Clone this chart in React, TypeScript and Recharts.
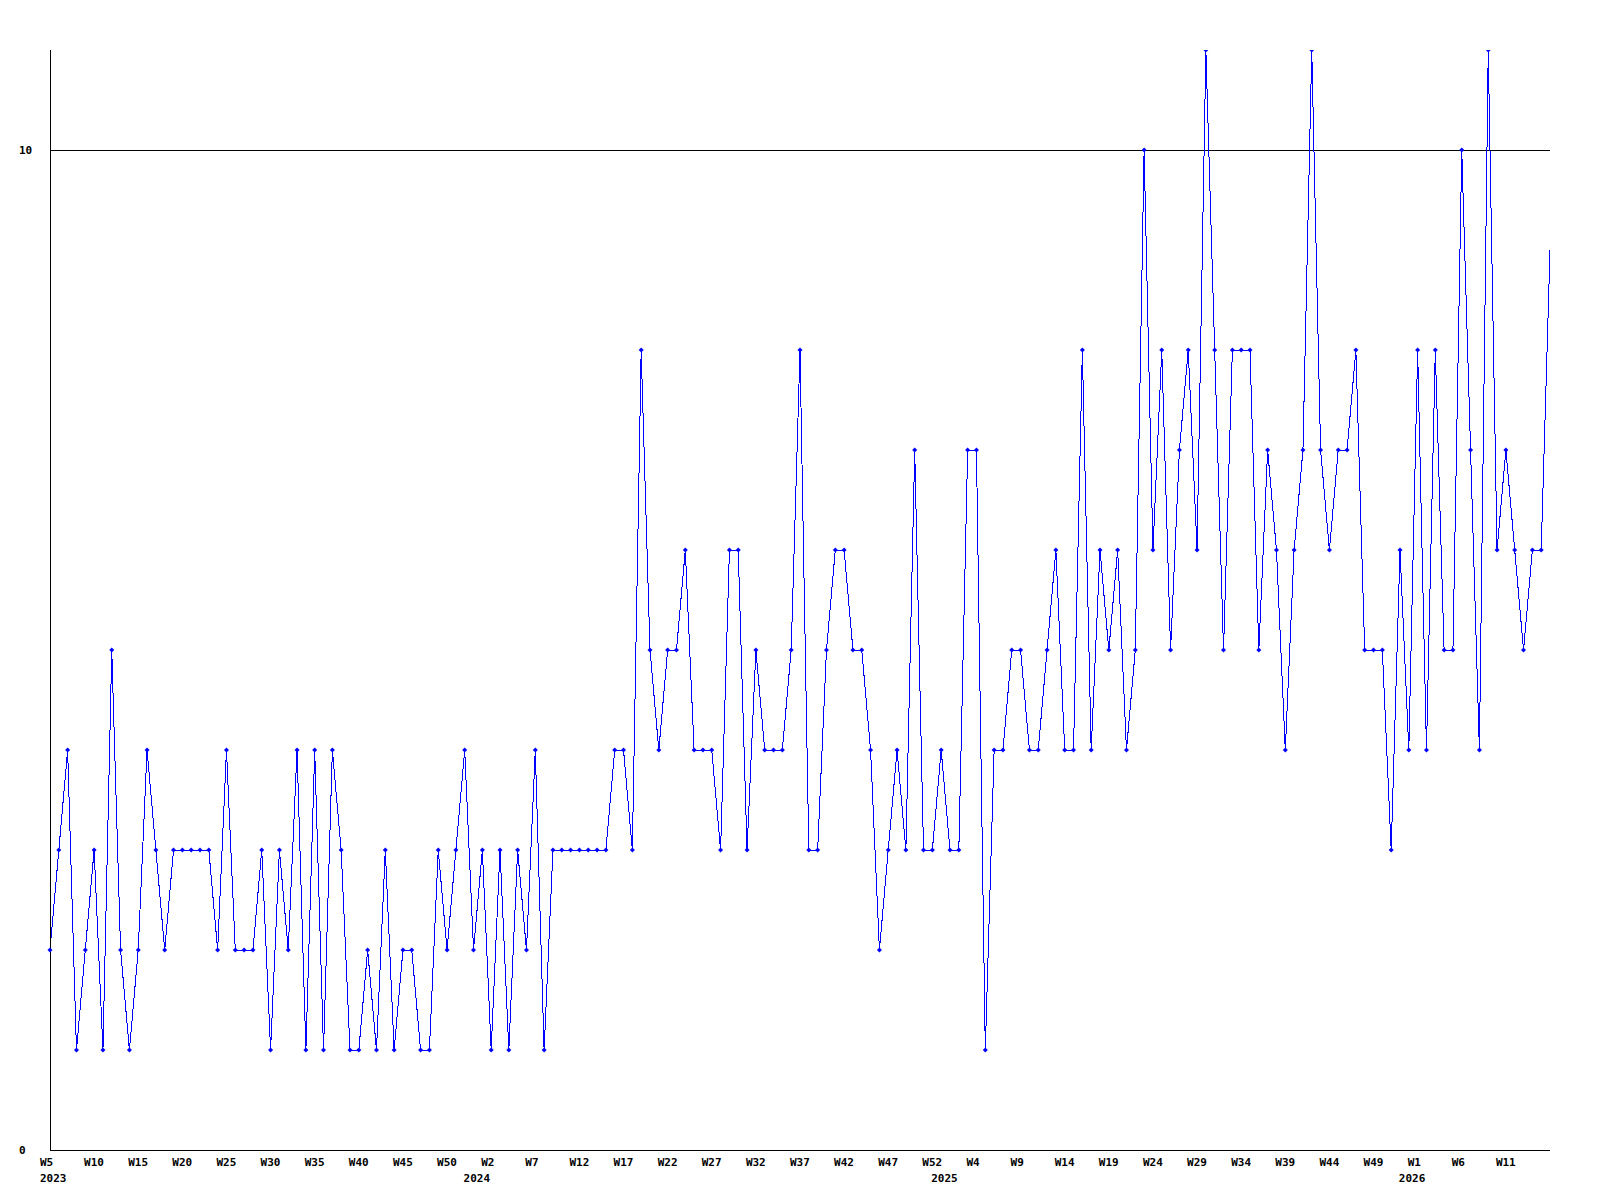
import React from "react";
import { LineChart, Line, XAxis, YAxis, ReferenceLine } from "recharts";

// Weekly buckets: year, first and last week number shown for that year
const YEARS = [2023, 2024, 2025, 2026];
const YEAR_FIRST_WEEK = [5, 0, 0, 0];
const YEAR_LAST_WEEK = [52, 52, 52, 16];

// Weekly counts, in order from 2023-W5 to 2026-W16
const VALUES = [
  2, 3, 4, 1, 2, 3, 1, 5, 2, 1, 2, 4, 3, 2, 3, 3, 3, 3, 3, 2, 4, 2,
  2, 2, 3, 1, 3, 2, 4, 1, 4, 1, 4, 3, 1, 1, 2, 1, 3, 1, 2, 2, 1, 1,
  3, 2, 3, 4, 2, 3, 1, 3, 1, 3, 2, 4, 1, 3, 3, 3, 3, 3, 3, 3,
  4, 4, 3, 8, 5, 4, 5, 5, 6, 4, 4, 4, 3, 6, 6, 3, 5, 4, 4, 4, 5, 8, 3,
  3, 5, 6, 6, 5, 5, 4, 2, 3, 4, 3, 7, 3, 3, 4, 3, 3, 7, 7, 1,
  4, 4, 5, 5, 4, 4, 5, 6, 4, 4, 8, 4, 6, 5, 6, 4, 5, 10, 6, 8, 5, 7, 8,
  6, 11, 8, 5, 8, 8, 8, 5, 7, 6, 4, 6, 7, 11, 7, 6, 7, 7, 8, 5, 5,
  5, 3, 6, 4, 8, 4, 8, 5, 5, 10, 7, 4, 11, 6, 7, 6, 5, 6, 6, 9,
];

// Categories labelled on the x axis
const X_TICK_KEYS = [
  "2023-W5", "2023-W10", "2023-W15", "2023-W20", "2023-W25", "2023-W30", "2023-W35", "2023-W40", "2023-W45", "2023-W50",
  "2024-W2", "2024-W7", "2024-W12", "2024-W17", "2024-W22", "2024-W27", "2024-W32", "2024-W37", "2024-W42", "2024-W47", "2024-W52",
  "2025-W4", "2025-W9", "2025-W14", "2025-W19", "2025-W24", "2025-W29", "2025-W34", "2025-W39", "2025-W44", "2025-W49",
  "2026-W1", "2026-W6", "2026-W11",
];
// Categories under which the year is written
const YEAR_LABEL_KEYS = ["2023-W5", "2024-W0", "2025-W0", "2026-W0"];

const Y_TICKS = [0, 10];
const Y_MAX = 11;
const GRID_VALUE = 10;

const CATEGORIES: string[] = [];
YEARS.forEach((yr, i) => {
  for (let w = YEAR_FIRST_WEEK[i]; w <= YEAR_LAST_WEEK[i]; w++) {
    CATEGORIES.push(`${yr}-W${w}`);
  }
});

const data = CATEGORIES.map((key, i) => ({ key, value: VALUES[i] }));

const FONT = {
  fontFamily: "'DejaVu Sans Mono', 'Liberation Mono', monospace",
  fontWeight: "bold" as const,
  fontSize: 11,
  fill: "#000",
};

const XTick = (props: any) => {
  const { x, y, payload } = props;
  const key: string = payload.value;
  const [yr, wk] = key.split("-");
  return (
    <g>
      {X_TICK_KEYS.includes(key) && (
        <text x={x - 10} y={y + 16} textAnchor="start" {...FONT}>
          {wk}
        </text>
      )}
      {YEAR_LABEL_KEYS.includes(key) && (
        <text x={x - 10} y={y + 32} textAnchor="start" {...FONT}>
          {yr}
        </text>
      )}
    </g>
  );
};

const YTick = (props: any) => {
  const { x, y, payload } = props;
  return (
    <text x={x - 31} y={y + 4} textAnchor="start" {...FONT}>
      {payload.value}
    </text>
  );
};

const Diamond = (props: any) => {
  const { cx, cy, index } = props;
  if (index === VALUES.length - 1 || cx == null || cy == null) {
    return <g key={`d-${index}`} />;
  }
  const r = 2.5;
  return (
    <path
      key={`d-${index}`}
      d={`M${cx},${cy - r}L${cx + r},${cy}L${cx},${cy + r}L${cx - r},${cy}Z`}
      fill="#0000ff"
    />
  );
};

export default function App() {
  return (
    <div style={{ position: "absolute", left: 0, top: 0, width: 1600, height: 1200, background: "#fff" }}>
      <LineChart
        width={1600}
        height={1200}
        data={data}
        margin={{ top: 50, right: 50, bottom: 0, left: 0 }}
      >
        <XAxis
          dataKey="key"
          type="category"
          scale="point"
          padding={{ left: 0, right: 0 }}
          height={50}
          interval={0}
          tickLine={false}
          tickSize={0}
          tickMargin={0}
          axisLine={{ stroke: "#000", strokeWidth: 1, shapeRendering: "crispEdges" }}
          tick={<XTick />}
        />
        <YAxis
          type="number"
          domain={[0, Y_MAX]}
          ticks={Y_TICKS}
          width={50}
          tickLine={false}
          tickSize={0}
          tickMargin={0}
          axisLine={{ stroke: "#000", strokeWidth: 1, shapeRendering: "crispEdges" }}
          tick={<YTick />}
          allowDataOverflow
        />
        <ReferenceLine y={GRID_VALUE} stroke="#000" strokeWidth={1} shapeRendering="crispEdges" />
        <Line
          type="linear"
          dataKey="value"
          stroke="#0000ff"
          strokeWidth={1}
          shapeRendering="crispEdges"
          dot={Diamond}
          activeDot={false}
          isAnimationActive={false}
        />
      </LineChart>
    </div>
  );
}
